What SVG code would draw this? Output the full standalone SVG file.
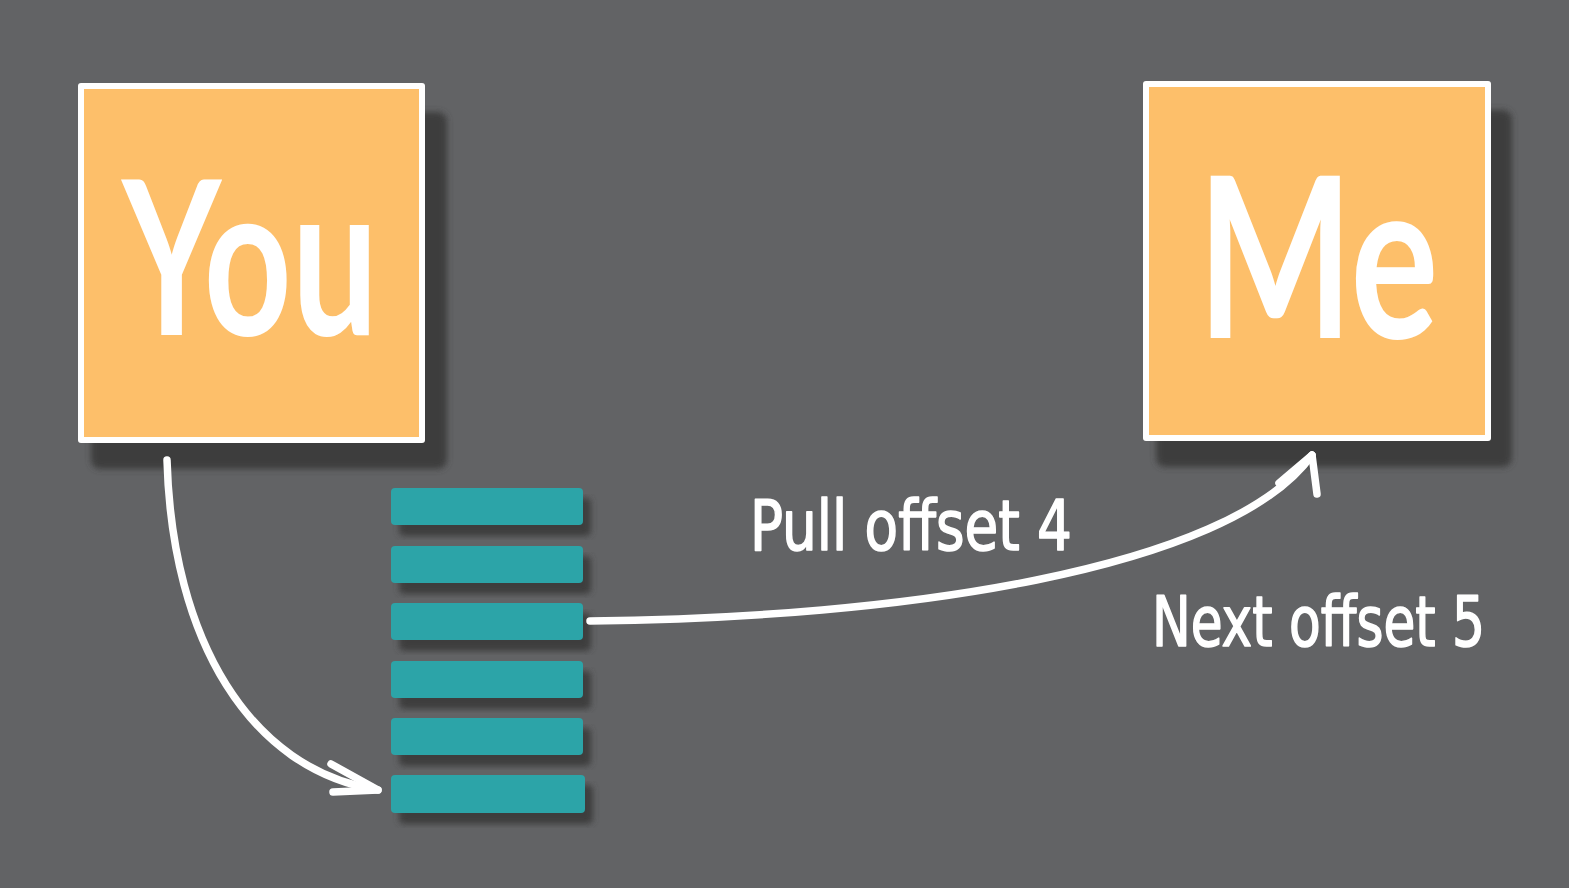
<svg xmlns="http://www.w3.org/2000/svg" width="1569" height="888" viewBox="0 0 1569 888">
<defs>
<filter id="blur" x="-10%" y="-10%" width="120%" height="120%"><feGaussianBlur stdDeviation="3"/></filter>
<style>
.shadow{fill:#3e3e3e;filter:url(#blur)}
.frame{fill:#ffffff}
.fill{fill:#FDBF6A}
.bar{fill:#2CA4A8}
.big{font-family:"Lato","Open Sans",sans-serif;font-weight:bold;fill:#ffffff}
.lbl{font-family:"DejaVu Sans Condensed","Liberation Sans Narrow","Noto Sans",sans-serif;fill:#ffffff;stroke:#ffffff;stroke-width:1.6;stroke-linejoin:round}
.conn{fill:none;stroke:#ffffff;stroke-width:7.5;stroke-linecap:round;stroke-linejoin:round}
</style>
</defs>
<rect width="1569" height="888" fill="#626365"/>
<g id="you">
<rect class="shadow" x="91" y="112" width="356" height="357" rx="9"/>
<rect class="frame" x="78" y="83" width="347" height="360" rx="3"/>
<rect class="fill" x="84" y="89" width="335" height="348"/>
<text class="big" x="250" y="335" font-size="215" text-anchor="middle" textLength="256" lengthAdjust="spacingAndGlyphs">You</text>
</g>
<g id="me">
<rect class="shadow" x="1156" y="110" width="356" height="357" rx="9"/>
<rect class="frame" x="1143" y="81" width="348" height="360" rx="3"/>
<rect class="fill" x="1149" y="87" width="336" height="348"/>
<text class="big" x="1318" y="338" font-size="225" text-anchor="middle" textLength="241" lengthAdjust="spacingAndGlyphs">Me</text>
</g>
<g id="log">
<rect class="shadow" x="399" y="498" width="192" height="38" rx="5"/>
<rect class="shadow" x="399" y="556" width="192" height="38" rx="5"/>
<rect class="shadow" x="399" y="613" width="192" height="38" rx="5"/>
<rect class="shadow" x="399" y="671" width="192" height="38" rx="5"/>
<rect class="shadow" x="399" y="728" width="192" height="38" rx="5"/>
<rect class="shadow" x="399" y="785" width="194" height="39" rx="5"/>
<rect class="bar" x="391" y="488" width="192" height="37" rx="4"/>
<rect class="bar" x="391" y="546" width="192" height="37" rx="4"/>
<rect class="bar" x="391" y="603" width="192" height="37" rx="4"/>
<rect class="bar" x="391" y="661" width="192" height="37" rx="4"/>
<rect class="bar" x="391" y="718" width="192" height="37" rx="4"/>
<rect class="bar" x="391" y="775" width="194" height="38" rx="4"/>
</g>
<g id="connectors">
<path class="conn" d="M167,460 C172,640 250,770 378,790"/>
<path class="conn" d="M333,792 L378,790 L331,764"/>
<path class="conn" d="M590,621 C900,618 1230,570 1312,455"/>
<path class="conn" d="M1279,483 L1312,455 L1317,494"/>
</g>
<g id="labels">
<text class="lbl" x="750" y="550" font-size="70" textLength="322" lengthAdjust="spacingAndGlyphs">Pull offset 4</text>
<text class="lbl" x="1152" y="646" font-size="70" textLength="333" lengthAdjust="spacingAndGlyphs">Next offset 5</text>
</g>
</svg>
